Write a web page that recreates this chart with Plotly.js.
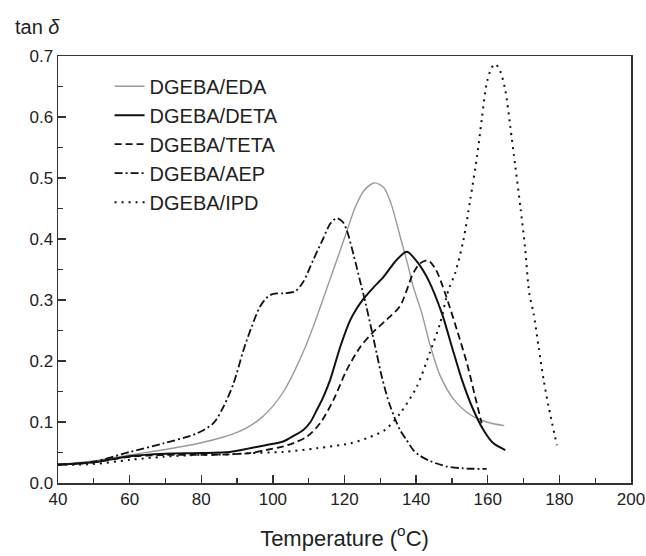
<!DOCTYPE html>
<html>
<head>
<meta charset="utf-8">
<script src="https://cdn.plot.ly/plotly-3.0.1.min.js"></script>
<style>
  html, body { margin: 0; padding: 0; background: #ffffff; }
  #chart { width: 646px; height: 556px; }
</style>
</head>
<body>
<div id="chart"></div>
<script>
// ---- data ----
const seriesNames = ["DGEBA/EDA", "DGEBA/DETA", "DGEBA/TETA", "DGEBA/AEP", "DGEBA/IPD"];

const edaT = [40, 50, 60, 70, 80, 86, 90, 94, 97, 100, 103, 106, 109, 112, 115, 118, 120.6, 123, 125.5, 128.4, 131, 133, 135.5, 137.5, 139.2, 141.6, 143.9, 146.7, 150.4, 155.1, 159.7, 164.6];
const edaV = [0.030, 0.036, 0.046, 0.055, 0.066, 0.075, 0.083, 0.095, 0.108, 0.126, 0.150, 0.183, 0.222, 0.268, 0.318, 0.368, 0.412, 0.452, 0.480, 0.492, 0.484, 0.458, 0.405, 0.362, 0.322, 0.278, 0.226, 0.176, 0.138, 0.112, 0.100, 0.094];

const detaT = [40, 50, 60, 70, 80, 88, 93.6, 98, 102.9, 106, 108.5, 110.5, 112.3, 114, 116, 118.8, 121.6, 123.5, 125.3, 128, 130.9, 134.6, 137.4, 140.6, 143.4, 147.2, 150, 152.8, 155.6, 158.8, 161.6, 164.9];
const detaV = [0.030, 0.034, 0.044, 0.048, 0.049, 0.051, 0.057, 0.062, 0.068, 0.078, 0.087, 0.100, 0.120, 0.140, 0.169, 0.223, 0.267, 0.287, 0.302, 0.320, 0.338, 0.366, 0.379, 0.360, 0.333, 0.278, 0.223, 0.169, 0.125, 0.087, 0.065, 0.054];

const tetaT = [40, 50, 60, 70, 80, 88, 93.6, 98, 102.9, 106, 109.5, 113.2, 116.9, 120.6, 124.4, 127.6, 131.8, 135.5, 139.2, 141.1, 143.3, 145.5, 148.1, 151.4, 154.2, 156.5, 158.3];
const tetaV = [0.030, 0.034, 0.043, 0.046, 0.046, 0.047, 0.049, 0.054, 0.060, 0.066, 0.076, 0.098, 0.136, 0.185, 0.223, 0.245, 0.268, 0.290, 0.344, 0.360, 0.365, 0.350, 0.311, 0.251, 0.196, 0.141, 0.098];

const aepT = [40, 49.9, 60.1, 69.4, 78.7, 83.4, 86.2, 89, 91.8, 94, 96.4, 98.5, 100.1, 103, 106.2, 108.5, 111.3, 114, 116, 117.8, 119.5, 120.6, 122.5, 124.4, 126, 127.6, 129, 130.5, 132.7, 135.5, 137.4, 139.2, 141, 143.9, 148.6, 153.2, 159.7];
const aepV = [0.030, 0.035, 0.051, 0.065, 0.081, 0.098, 0.125, 0.163, 0.218, 0.255, 0.289, 0.305, 0.310, 0.311, 0.314, 0.330, 0.366, 0.400, 0.425, 0.434, 0.428, 0.415, 0.375, 0.330, 0.292, 0.250, 0.212, 0.172, 0.127, 0.087, 0.070, 0.054, 0.045, 0.036, 0.027, 0.024, 0.023];

const ipdT = [40, 49.9, 60.1, 69.4, 78.7, 88, 93.6, 102.9, 112.3, 121.6, 126.5, 131.3, 135.5, 140.2, 143.9, 146.7, 149, 150.9, 153.2, 155.1, 157, 158.3, 159.7, 161, 162.1, 163.5, 164.9, 166.3, 167.7, 169.1, 170.4, 171.6, 172.8, 174.2, 175.6, 177, 179.3];
const ipdV = [0.030, 0.031, 0.038, 0.043, 0.046, 0.047, 0.049, 0.051, 0.057, 0.065, 0.074, 0.087, 0.114, 0.158, 0.215, 0.262, 0.316, 0.344, 0.398, 0.464, 0.535, 0.595, 0.655, 0.680, 0.687, 0.675, 0.644, 0.584, 0.519, 0.453, 0.387, 0.311, 0.278, 0.223, 0.169, 0.125, 0.062];

const xTickVals = [40, 60, 80, 100, 120, 140, 160, 180, 200];
const yTickVals = [0.0, 0.1, 0.2, 0.3, 0.4, 0.5, 0.6, 0.7];

// ---- styles ----
const FONT = "Liberation Sans, Arial, Helvetica, sans-serif";
const styles = [
  {color: "#9a9a9a", width: 1.4, dash: "solid"},
  {color: "#111111", width: 2.0, dash: "solid"},
  {color: "#111111", width: 1.8, dash: "7px,4px"},
  {color: "#111111", width: 1.8, dash: "8px,3px,2px,3px"},
  {color: "#111111", width: 2.0, dash: "2px,5px"}
];
const xs = [edaT, detaT, tetaT, aepT, ipdT];
const ys = [edaV, detaV, tetaV, aepV, ipdV];

const traces = seriesNames.map((n, i) => ({
  type: "scatter",
  mode: "lines",
  name: n,
  x: xs[i],
  y: ys[i],
  line: {color: styles[i].color, width: styles[i].width, dash: styles[i].dash, shape: "spline", smoothing: 0.8},
  hoverinfo: "skip"
}));

const axisCommon = {
  showgrid: false,
  zeroline: false,
  showline: true,
  linecolor: "#333333",
  linewidth: 1.5,
  mirror: true,
  ticks: "inside",
  ticklen: 8,
  tickwidth: 1.3,
  tickcolor: "#333333",
  tickfont: {family: FONT, size: 17, color: "#222222"}
};

const layout = {
  width: 646,
  height: 556,
  margin: {l: 58, r: 15, t: 56, b: 73},
  paper_bgcolor: "#ffffff",
  plot_bgcolor: "#ffffff",
  showlegend: true,
  legend: {
    x: 0.09, y: 0.975, xanchor: "left", yanchor: "top",
    bgcolor: "rgba(0,0,0,0)",
    font: {family: FONT, size: 20, color: "#222222"},
    itemwidth: 30,
    tracegroupgap: 0
  },
  xaxis: Object.assign({}, axisCommon, {
    range: [40, 200],
    tickvals: xTickVals,
    ticktext: xTickVals.map(String),
    minor: {dtick: 10, tick0: 40, ticks: "inside", ticklen: 5, tickwidth: 1.3, tickcolor: "#333333"},
    title: {text: "Temperature (<sup>o</sup>C)", font: {family: FONT, size: 22, color: "#222222"}, standoff: 22}
  }),
  yaxis: Object.assign({}, axisCommon, {
    range: [0, 0.7],
    tickvals: yTickVals,
    ticktext: yTickVals.map(v => v.toFixed(1)),
    minor: {dtick: 0.05, tick0: 0, ticks: "inside", ticklen: 5, tickwidth: 1.3, tickcolor: "#333333"}
  }),
  annotations: [{
    xref: "paper", yref: "paper",
    x: -0.079, y: 1.068, xanchor: "left", yanchor: "middle",
    showarrow: false,
    text: "tan <i>δ</i>",
    font: {family: FONT, size: 20, color: "#222222"}
  }]
};

Plotly.newPlot("chart", traces, layout, {displayModeBar: false, staticPlot: true});
</script>
</body>
</html>
